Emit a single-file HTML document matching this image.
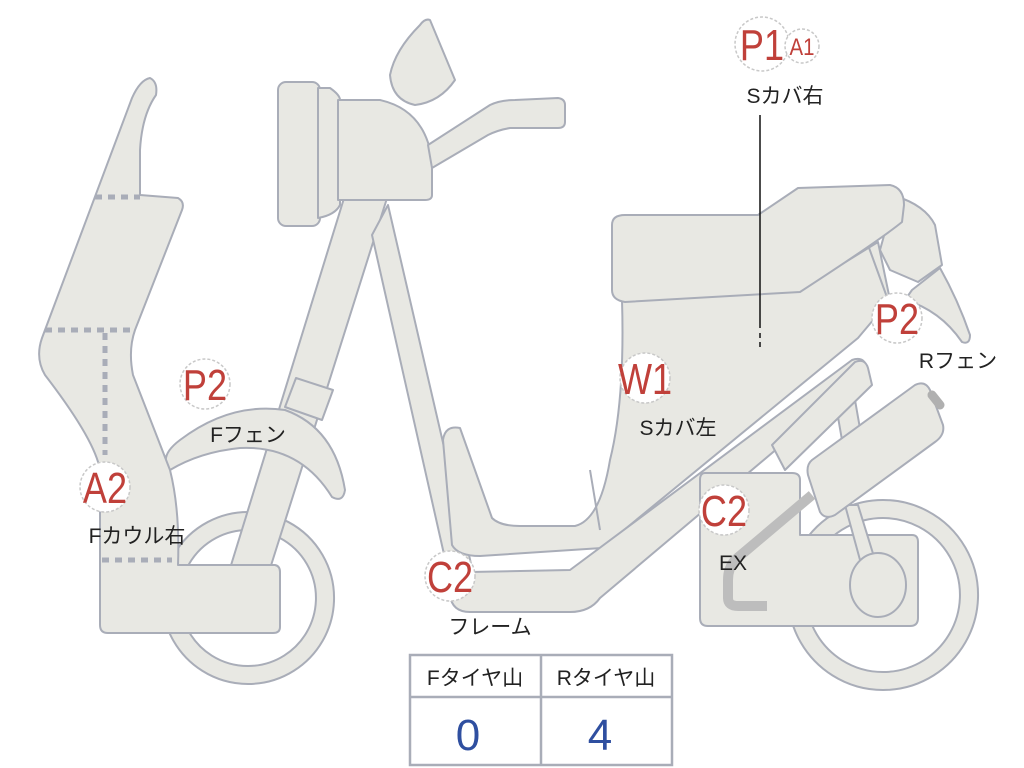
<!DOCTYPE html>
<html><head><meta charset="utf-8"><style>
html,body{margin:0;padding:0;background:#fff;width:1024px;height:768px;overflow:hidden}
svg{display:block}
.s{fill:#e8e8e3;stroke:#a9adb8;stroke-width:2;stroke-linejoin:round}
.d{stroke:#a9adb8;stroke-width:5;stroke-dasharray:7 6;fill:none}
.c{fill:#fff;stroke:#c8c8c8;stroke-width:1.5;stroke-dasharray:3 2}
.r{fill:#c0403a;font-family:"Liberation Sans",sans-serif}
.k{fill:#222;font-family:"Liberation Sans","Noto Sans CJK JP",sans-serif;font-size:21px}
</style></head><body>
<svg width="1024" height="768" viewBox="0 0 1024 768" xmlns="http://www.w3.org/2000/svg">
<!-- rear wheel -->
<path class="s" fill-rule="evenodd" d="M883,500 a95,95 0 1,0 0.1,0 Z M883,518 a77,77 0 1,1 -0.1,0 Z"/>
<!-- front wheel -->
<path class="s" fill-rule="evenodd" d="M248,512 a86,86 0 1,0 0.1,0 Z M248,530 a68,68 0 1,1 -0.1,0 Z"/>
<!-- fork -->
<path class="s" d="M345,195 L388,195 L268,575 L228,575 Z"/>
<path class="s" d="M296,378 L333,390 L322,420 L285,407 Z"/>
<!-- rear stay -->
<path class="s" d="M372,235 L388,205 L472,568 L448,572 Z"/>
<!-- front fender -->
<path class="s" d="M168,468 Q160,455 180,440 Q230,402 285,410 Q335,428 345,490 Q343,503 332,497 Q300,445 240,448 Q200,452 170,470 Z"/>
<!-- headlight -->
<rect class="s" x="278" y="82" width="42" height="144" rx="8"/>
<path class="s" d="M318,88 L330,88 Q340,95 340,100 L340,205 Q335,215 318,218 Z"/>
<path class="s" d="M338,100 L380,100 Q425,110 432,160 L432,195 Q432,200 425,200 L338,200 Z"/>
<!-- mirror -->
<path class="s" d="M430,20 Q425,18 420,25 Q395,50 390,75 Q392,100 415,105 Q440,102 455,80 Z"/>
<!-- handlebar -->
<path class="s" d="M428,145 L490,105 Q500,100 515,100 L558,98 Q565,99 565,105 L565,122 Q565,128 558,128 L510,128 Q498,130 488,135 L432,168 Z"/>
<!-- front cowl -->
<path class="s" d="M150,78 Q158,82 156,95 Q142,115 140,150 L140,195 L178,198 Q185,202 182,210 L135,330 Q128,350 133,375 L170,470 Q180,510 178,565 L275,565 Q280,566 280,572 L280,627 Q280,633 273,633 L108,633 Q100,633 100,625 L100,470 Q95,440 45,375 Q35,358 42,338 L132,98 Q140,80 150,78 Z"/>
<path class="d" d="M95,197 L140,197 M45,330 L136,330 M105,333 L105,455 M102,560 L172,560"/>
<!-- body / floor / side cover -->
<path class="s" d="M443,440 Q445,425 460,428 L492,518 Q500,526 520,526 L575,526 Q600,520 610,460 Q625,400 622,300 L800,290 L878,242 L890,300 L858,338 L602,548 L480,556 Q458,556 452,545 Z"/>
<path d="M590,470 L600,530" stroke="#a9adb8" stroke-width="2" fill="none"/>
<!-- rear tail & fender -->
<path class="s" d="M895,196 Q925,205 935,225 L942,265 L918,282 L890,270 L880,250 Z"/>
<path d="M868,245 L888,300" stroke="#a9adb8" stroke-width="2" fill="none"/>
<path class="s" d="M912,290 L940,268 Q958,300 970,335 Q970,345 962,342 Q940,310 905,300 Z"/>
<!-- seat -->
<path class="s" d="M612,225 Q612,215 625,215 L758,215 L798,188 L890,185 Q904,188 904,205 L902,222 Q880,240 800,292 L625,302 Q612,300 612,290 Z"/>
<!-- frame -->
<path class="s" d="M470,572 L570,570 L852,360 Q866,355 868,372 L600,598 Q590,612 570,612 L470,612 Q452,612 450,595 Q452,574 470,572 Z"/>
<!-- engine -->
<path class="s" d="M705,473 L792,473 Q800,473 800,480 L800,535 L912,535 Q918,535 918,542 L918,618 Q918,626 910,626 L708,626 Q700,626 700,618 L700,480 Q700,473 705,473 Z"/>
<path class="s" d="M845,505 L858,505 L875,560 L860,560 Z"/>
<ellipse class="s" cx="878" cy="585" rx="28" ry="32"/>
<!-- air filter bar -->
<path class="s" d="M835,400 L855,400 L862,440 L842,440 Z"/>
<path class="s" d="M772,445 L855,362 Q865,358 868,368 L872,385 L785,470 Z"/>
<!-- shock box -->
<path class="s" d="M812,460 L915,385 Q925,380 930,390 L943,425 Q945,435 935,442 L835,515 Q825,520 820,512 L808,475 Q806,465 812,460 Z"/>
<path d="M932,395 L940,405" stroke="#b0b0b0" stroke-width="9" stroke-linecap="round"/>
<!-- exhaust -->
<path d="M812,495 L735,560 Q728,568 728,580 L728,598 Q728,606 738,606 L767,606" stroke="#bdbdbd" stroke-width="10" fill="none"/>
<!-- leader line -->
<path d="M760,115 L760,328 M760,333 L760,338 M760,342 L760,347" stroke="#111" stroke-width="1.5" fill="none"/>
<!-- labels -->
<circle class="c" cx="762" cy="44" r="27"/>
<text class="r" x="762" y="60" font-size="44" text-anchor="middle" transform="translate(762 0) scale(0.82 1) translate(-762 0)">P1</text>
<circle class="c" cx="802" cy="46" r="17"/>
<text class="r" x="802" y="55" font-size="24" text-anchor="middle" transform="translate(802 0) scale(0.85 1) translate(-802 0)">A1</text>
<text class="k" x="785" y="103" text-anchor="middle">Sカバ右</text>

<circle class="c" cx="205" cy="384" r="25"/>
<text class="r" x="205" y="400" font-size="44" text-anchor="middle" transform="translate(205 0) scale(0.82 1) translate(-205 0)">P2</text>
<text class="k" x="248" y="442" text-anchor="middle">Fフェン</text>

<circle class="c" cx="105" cy="487" r="25"/>
<text class="r" x="105" y="503" font-size="44" text-anchor="middle" transform="translate(105 0) scale(0.82 1) translate(-105 0)">A2</text>
<text class="k" x="137" y="543" text-anchor="middle">Fカウル右</text>

<circle class="c" cx="645" cy="378" r="25"/>
<text class="r" x="645" y="394" font-size="44" text-anchor="middle" transform="translate(645 0) scale(0.82 1) translate(-645 0)">W1</text>
<text class="k" x="678" y="435" text-anchor="middle">Sカバ左</text>

<circle class="c" cx="450" cy="576" r="25"/>
<text class="r" x="450" y="592" font-size="44" text-anchor="middle" transform="translate(450 0) scale(0.82 1) translate(-450 0)">C2</text>
<text class="k" x="490" y="634" text-anchor="middle">フレーム</text>

<circle class="c" cx="724" cy="510" r="25"/>
<text class="r" x="724" y="526" font-size="44" text-anchor="middle" transform="translate(724 0) scale(0.82 1) translate(-724 0)">C2</text>
<text class="k" x="733" y="570" text-anchor="middle">EX</text>

<circle class="c" cx="897" cy="318" r="25"/>
<text class="r" x="897" y="334" font-size="44" text-anchor="middle" transform="translate(897 0) scale(0.82 1) translate(-897 0)">P2</text>
<text class="k" x="958" y="368" text-anchor="middle">Rフェン</text>

<!-- table -->
<rect x="410" y="655" width="262" height="110" fill="#fff" stroke="#a9adb8" stroke-width="2.5"/>
<path d="M410,697 L672,697 M541,655 L541,765" stroke="#a9adb8" stroke-width="2.5"/>
<text class="k" x="475" y="685" text-anchor="middle">Fタイヤ山</text>
<text class="k" x="606" y="685" text-anchor="middle">Rタイヤ山</text>
<text x="468" y="750" font-size="44" fill="#2f4fa0" text-anchor="middle" font-family="Liberation Sans,sans-serif">0</text>
<text x="600" y="750" font-size="44" fill="#2f4fa0" text-anchor="middle" font-family="Liberation Sans,sans-serif">4</text>
</svg>
</body></html>
